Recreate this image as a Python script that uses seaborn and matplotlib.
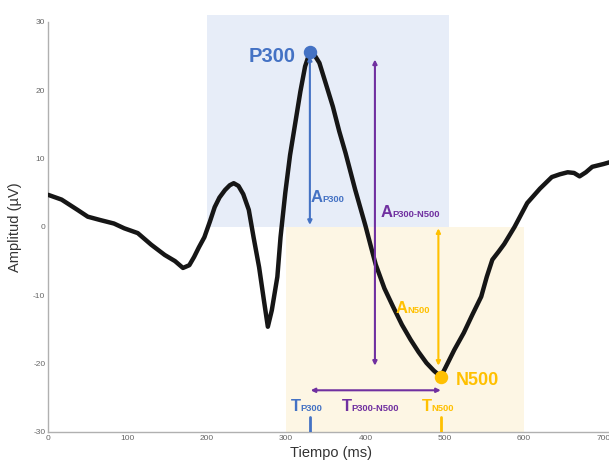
import numpy as np
import matplotlib
matplotlib.use("Agg")
import matplotlib.pyplot as plt
import matplotlib.transforms as mtransforms
from matplotlib.patches import Rectangle
import seaborn as sns

# ERP waveform
time_ms = [0, 17, 37, 50, 66, 83, 96, 113, 130, 147, 160, 170, 178, 184, 190,
           197, 204, 210, 216, 223, 229, 234, 240, 246, 253, 259, 266, 272, 277,
           282, 289, 293, 299, 305, 312, 318, 324, 330, 335, 342, 350, 359, 367,
           375, 387, 400, 407, 413, 424, 435, 446, 457, 467, 477, 486, 495, 500,
           512, 524, 535, 546, 553, 560, 568, 575, 588, 604, 620, 635, 645, 655,
           663, 670, 678, 686, 700, 712]
amplitude = [4.7, 4.0, 2.5, 1.5, 1.0, 0.5, -0.2, -0.9, -2.6, -4.1, -5.0, -6.0,
             -5.6, -4.4, -3.0, -1.5, 0.8, 2.9, 4.3, 5.4, 6.1, 6.4, 6.0, 4.8, 2.5,
             -1.5, -5.9, -10.7, -14.6, -12.2, -7.3, -1.5, 5.0, 10.5, 15.5, 19.8,
             23.5, 25.6, 25.3, 24.0, 21.0, 17.6, 14.0, 10.8, 5.5, 0.2, -2.9, -5.5,
             -9.0, -11.7, -14.3, -16.5, -18.3, -19.9, -21.0, -21.9, -20.8, -18.0,
             -15.5, -12.8, -10.2, -7.3, -4.8, -3.6, -2.5, 0.0, 3.5, 5.6, 7.3, 7.7,
             8.0, 7.9, 7.4, 8.0, 8.8, 9.2, 9.6]

p300 = (330, 25.6)
n500 = (495, -21.9)
p300_window = (200, 505)
n500_window = (300, 600)
x_ticks = [0, 100, 200, 300, 400, 500, 600, 700]
y_ticks = [-30, -20, -10, 0, 10, 20, 30]

BLUE = "#4472c4"
PURPLE = "#7030a0"
GOLD = "#ffc000"

sns.set_theme(style="white")
plt.rcParams["font.family"] = ["Liberation Sans", "DejaVu Sans"]
plt.rcParams["axes.unicode_minus"] = False

fig = plt.figure(figsize=(6.09, 4.66), dpi=100)
ax = fig.add_axes([0.079, 0.073, 0.93, 0.88])

# time windows
ax.add_patch(Rectangle((p300_window[0], 0), p300_window[1] - p300_window[0], 31,
                       facecolor="#e7edf8", edgecolor="none", clip_on=False, zorder=0))
ax.add_patch(Rectangle((n500_window[0], -30), n500_window[1] - n500_window[0], 30,
                       facecolor="#fdf6e4", edgecolor="none", zorder=0))

sns.lineplot(x=time_ms, y=amplitude, color="#161616", lw=3.2, ax=ax, zorder=3)
ax.lines[-1].set_solid_joinstyle("round")
ax.lines[-1].set_solid_capstyle("round")

ax.scatter(*p300, s=75, color=BLUE, zorder=5)
ax.scatter(*n500, s=75, color=GOLD, zorder=5)
ax.text(p300[0] - 18, p300[1] - 1.4, "P300", color=BLUE, fontsize=14.5,
        fontweight="bold", ha="right", va="baseline", zorder=6)
ax.text(n500[0] + 19, n500[1] - 1.2, "N500", color=GOLD, fontsize=13,
        fontweight="bold", ha="left", va="baseline", zorder=6)


def arrow(x0, y0, x1, y1, color):
    ax.annotate("", xy=(x1, y1), xytext=(x0, y0), zorder=4,
                arrowprops=dict(arrowstyle="<|-|>", color=color, lw=1.5,
                                mutation_scale=6, shrinkA=0, shrinkB=0))


arrow(p300[0], 25.0, p300[0], 0.3, BLUE)
arrow(412, 24.5, 412, -20.3, PURPLE)
arrow(492, -0.2, 492, -20.3, GOLD)
arrow(331, -23.9, 495, -23.9, PURPLE)

ax.plot([p300[0], p300[0]], [-27.8, -30], color=BLUE, lw=2, zorder=4)
ax.plot([n500[0], n500[0]], [-27.8, -30], color=GOLD, lw=2, zorder=4)

fig.canvas.draw()
renderer = fig.canvas.get_renderer()


def sub_label(x, y, big, small, color, size=12):
    t = ax.text(x, y, big, color=color, fontsize=size, fontweight="bold",
                va="baseline", zorder=6)
    w = t.get_window_extent(renderer).width
    tr = mtransforms.offset_copy(ax.transData, fig=fig, x=w, y=0, units="dots")
    ax.text(x, y, small, transform=tr, color=color, fontsize=size * 0.56,
            fontweight="bold", va="baseline", zorder=6)


sub_label(331, 3.7, "A", "P300", BLUE)
sub_label(418.5, 1.5, "A", "P300-N500", PURPLE)
sub_label(437.5, -12.6, "A", "N500", GOLD)
sub_label(306, -27.0, "T", "P300", BLUE)
sub_label(370, -27.0, "T", "P300-N500", PURPLE)
sub_label(471, -27.0, "T", "N500", GOLD)

ax.set_xlim(0, 714)
ax.set_ylim(-30, 30)
ax.set_xticks(x_ticks)
ax.set_yticks(y_ticks)
ax.tick_params(direction="in", length=3, width=0.8, colors="#a0a0a0",
               labelcolor="#666666", labelsize=6, pad=2)
for side in ["top", "right"]:
    ax.spines[side].set_visible(False)
for side in ["left", "bottom"]:
    ax.spines[side].set_color("#b0b0b0")
    ax.spines[side].set_linewidth(1.0)
ax.set_xlabel("Tiempo (ms)", fontsize=10.5, color="#333333", labelpad=3)
ax.set_ylabel("Amplitud (µV)", fontsize=10.5, color="#333333", labelpad=8)

fig.savefig("out.png", dpi=100)
